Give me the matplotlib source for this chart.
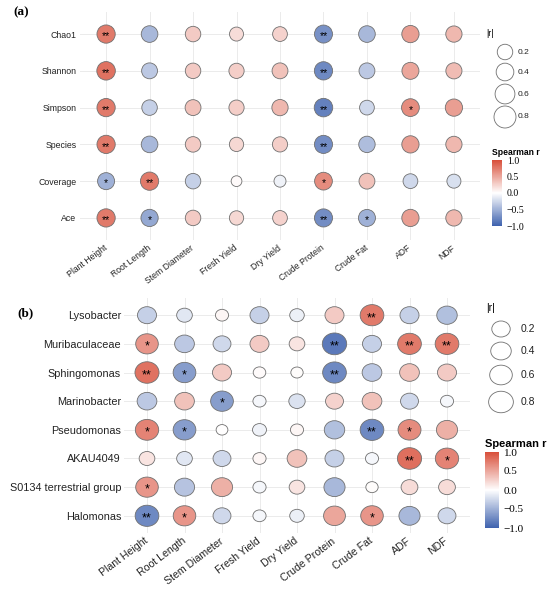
import numpy as np
import matplotlib
matplotlib.use('Agg')
import matplotlib.pyplot as plt
from matplotlib.colors import LinearSegmentedColormap, Normalize
from matplotlib.cm import ScalarMappable
from matplotlib.path import Path
from matplotlib.transforms import Affine2D
from matplotlib.markers import MarkerStyle

plt.rcParams['font.family'] = ['Liberation Sans', 'DejaVu Sans']

# columns shared by both panels
traits = ['Plant Height', 'Root Length', 'Stem Diameter', 'Fresh Yield', 'Dry Yield',
          'Crude Protein', 'Crude Fat', 'ADF', 'NDF']

# panel (a): alpha diversity indices
rows_a = ['Chao1', 'Shannon', 'Simpson', 'Species', 'Coverage', 'Ace']
r_a = [
    [0.75, -0.45, 0.30, 0.20, 0.25, -0.70, -0.45, 0.55, 0.40],
    [0.80, -0.35, 0.30, 0.28, 0.35, -0.75, -0.35, 0.50, 0.38],
    [0.75, -0.30, 0.35, 0.28, 0.40, -0.80, -0.25, 0.65, 0.55],
    [0.75, -0.45, 0.30, 0.22, 0.28, -0.72, -0.42, 0.55, 0.40],
    [-0.50, 0.75, -0.30, 0.03, -0.08, 0.65, 0.35, -0.25, -0.20],
    [0.75, -0.55, 0.30, 0.22, 0.25, -0.72, -0.50, 0.55, 0.40],
]
sig_a = [
    ['**', '', '', '', '', '**', '', '', ''],
    ['**', '', '', '', '', '**', '', '', ''],
    ['**', '', '', '', '', '**', '', '*', ''],
    ['**', '', '', '', '', '**', '', '', ''],
    ['*', '**', '', '', '', '*', '', '', ''],
    ['**', '*', '', '', '', '**', '*', '', ''],
]

# panel (b): genera
rows_b = ['Lysobacter', 'Muribaculaceae', 'Sphingomonas', 'Marinobacter', 'Pseudomonas',
          'AKAU4049', 'S0134 terrestrial group', 'Halomonas']
r_b = [
    [-0.30, -0.15, 0.05, -0.30, -0.10, 0.30, 0.75, -0.30, -0.40],
    [0.60, -0.35, -0.25, 0.30, 0.15, -0.85, -0.30, 0.75, 0.75],
    [0.80, -0.62, 0.30, 0.03, 0.02, -0.75, -0.35, 0.35, 0.30],
    [-0.35, 0.35, -0.62, -0.05, -0.18, 0.25, 0.35, -0.25, -0.05],
    [0.70, -0.62, 0.00, -0.08, 0.05, -0.40, -0.75, 0.65, 0.45],
    [0.15, -0.15, -0.25, 0.05, 0.35, -0.30, -0.05, 0.82, 0.70],
    [0.60, -0.38, 0.45, -0.05, 0.15, -0.45, 0.02, 0.20, 0.20],
    [-0.75, 0.60, -0.25, -0.05, -0.10, 0.50, 0.60, -0.45, -0.25],
]
sig_b = [
    ['', '', '', '', '', '', '**', '', ''],
    ['*', '', '', '', '', '**', '', '**', '**'],
    ['**', '*', '', '', '', '**', '', '', ''],
    ['', '', '*', '', '', '', '', '', ''],
    ['*', '*', '', '', '', '', '**', '*', ''],
    ['', '', '', '', '', '', '', '**', '*'],
    ['*', '', '', '', '', '', '', '', ''],
    ['**', '*', '', '', '', '', '*', '', ''],
]
legend_r = [0.2, 0.4, 0.6, 0.8]

W, H, DPI = 550, 595, 100
cmap = LinearSegmentedColormap.from_list('rb', ['#3E62AE', '#FFFFFF', '#D84F3A'])
norm = Normalize(-1, 1)


def px_size(absr, anchors_r, anchors_d, aspect):
    # marker width in px -> scatter size in pt^2
    d = np.interp(absr, anchors_r, anchors_d) * aspect
    return (d * 72 / DPI) ** 2


def ellipse_marker(aspect):
    p = Path.unit_circle()
    return MarkerStyle(Path(Affine2D().scale(aspect, 1).transform(p.vertices), p.codes))


fig = plt.figure(figsize=(W / DPI, H / DPI), dpi=DPI)


def panel(box, rows, r, sig, anchors_d, aspect, fs_lab, fs_x, fs_star):
    l, t, rgt, b = box
    ax = fig.add_axes([l / W, 1 - b / H, (rgt - l) / W, (b - t) / H])
    r = np.array(r)
    yy, xx = np.meshgrid(np.arange(len(rows)), np.arange(len(traits)), indexing='ij')
    ax.scatter(xx.ravel(), yy.ravel(), s=px_size(np.abs(r.ravel()), [0, 0.1, 0.3, 0.5, 0.8, 1], anchors_d, aspect),
               c=r.ravel(), cmap=cmap, norm=norm, marker=ellipse_marker(aspect),
               edgecolors='#707070', linewidths=0.6, zorder=3)
    for i in range(len(rows)):
        for j in range(len(traits)):
            if sig[i][j]:
                ax.annotate(sig[i][j], (j, i), xytext=(0, -0.22 * fs_star), textcoords='offset points',
                            ha='center', va='center', fontsize=fs_star, zorder=4)
    ax.set_xlim(-0.6, len(traits) - 0.4)
    ax.set_ylim(len(rows) - 0.4, -0.6)
    ax.set_xticks(range(len(traits)))
    ax.set_xticklabels(traits, rotation=37, ha='right', va='center', rotation_mode='anchor', fontsize=fs_x)
    ax.set_yticks(range(len(rows)))
    ax.set_yticklabels(rows, fontsize=fs_lab)
    ax.tick_params(length=0, pad=2.5, colors='#222222')
    ax.tick_params(axis='x', pad=5)
    for s in ax.spines.values():
        s.set_visible(False)
    ax.set_axisbelow(True)
    ax.grid(color='#EBEBEB', lw=0.7)
    return ax


ax_a = panel((80, 12, 480, 240), rows_a, r_a, sig_a, [10, 12.5, 15.5, 17, 18.5, 19.5], 1.0, 6.3, 6.2, 7.5)
ax_b = panel((124.5, 298, 469.5, 533), rows_b, r_b, sig_b, [10.5, 13, 17, 19.5, 21.5, 22.5], 1.12, 7.8, 7.6, 9)

# overlay in pixel coordinates for panel letters and size legends
ov = fig.add_axes([0, 0, 1, 1])
ov.set_xlim(0, W)
ov.set_ylim(H, 0)
ov.axis('off')
serif = ['Liberation Serif', 'DejaVu Serif']
ov.text(13, 12, '(a)', family=serif, fontweight='bold', fontsize=9.5, va='center')
ov.text(17, 313, '(b)', family=serif, fontweight='bold', fontsize=9.5, va='center')

# |r| legends
ov.text(486, 33, '|r|', fontsize=6.2, va='center')
ya = [52, 72, 94, 117]
ov.scatter([505] * 4, ya, s=px_size(np.array(legend_r), [0.2, 0.8], [15.5, 22], 1.0),
           facecolors='white', edgecolors='#707070', linewidths=0.6)
for v, y in zip(legend_r, ya):
    ov.text(518, y, f'{v:.1f}', fontsize=6, va='center', color='#222222')

ov.text(486, 308, '|r|', fontsize=7.5, va='center')
yb = [329, 351, 375, 402]
ov.scatter([501] * 4, yb, s=px_size(np.array(legend_r), [0.2, 0.8], [16, 21.5], 1.15),
           marker=ellipse_marker(1.15), facecolors='white', edgecolors='#707070', linewidths=0.6)
for v, y in zip(legend_r, yb):
    ov.text(521, y, f'{v:.1f}', fontsize=7.5, va='center', color='#222222')


def cbar(x0, y0, x1, y1, fs_title, fs_tick):
    cax = fig.add_axes([x0 / W, 1 - y1 / H, (x1 - x0) / W, (y1 - y0) / H])
    cb = fig.colorbar(ScalarMappable(norm=norm, cmap=cmap), cax=cax, ticks=[-1, -0.5, 0, 0.5, 1])
    cb.outline.set_visible(False)
    cb.ax.tick_params(length=2, width=0.6, color='white', pad=1.5, labelsize=fs_tick)
    cb.ax.set_yticklabels(['\u22121.0', '\u22120.5', '0.0', '0.5', '1.0'], family=serif)
    ov.text(x0, y0 - 3, 'Spearman r', fontsize=fs_title, fontweight='bold', va='bottom')


cbar(492, 160, 502, 226, 6.2, 7)
cbar(485, 452, 499, 528, 8, 8)

fig.savefig('out.png', dpi=DPI)
